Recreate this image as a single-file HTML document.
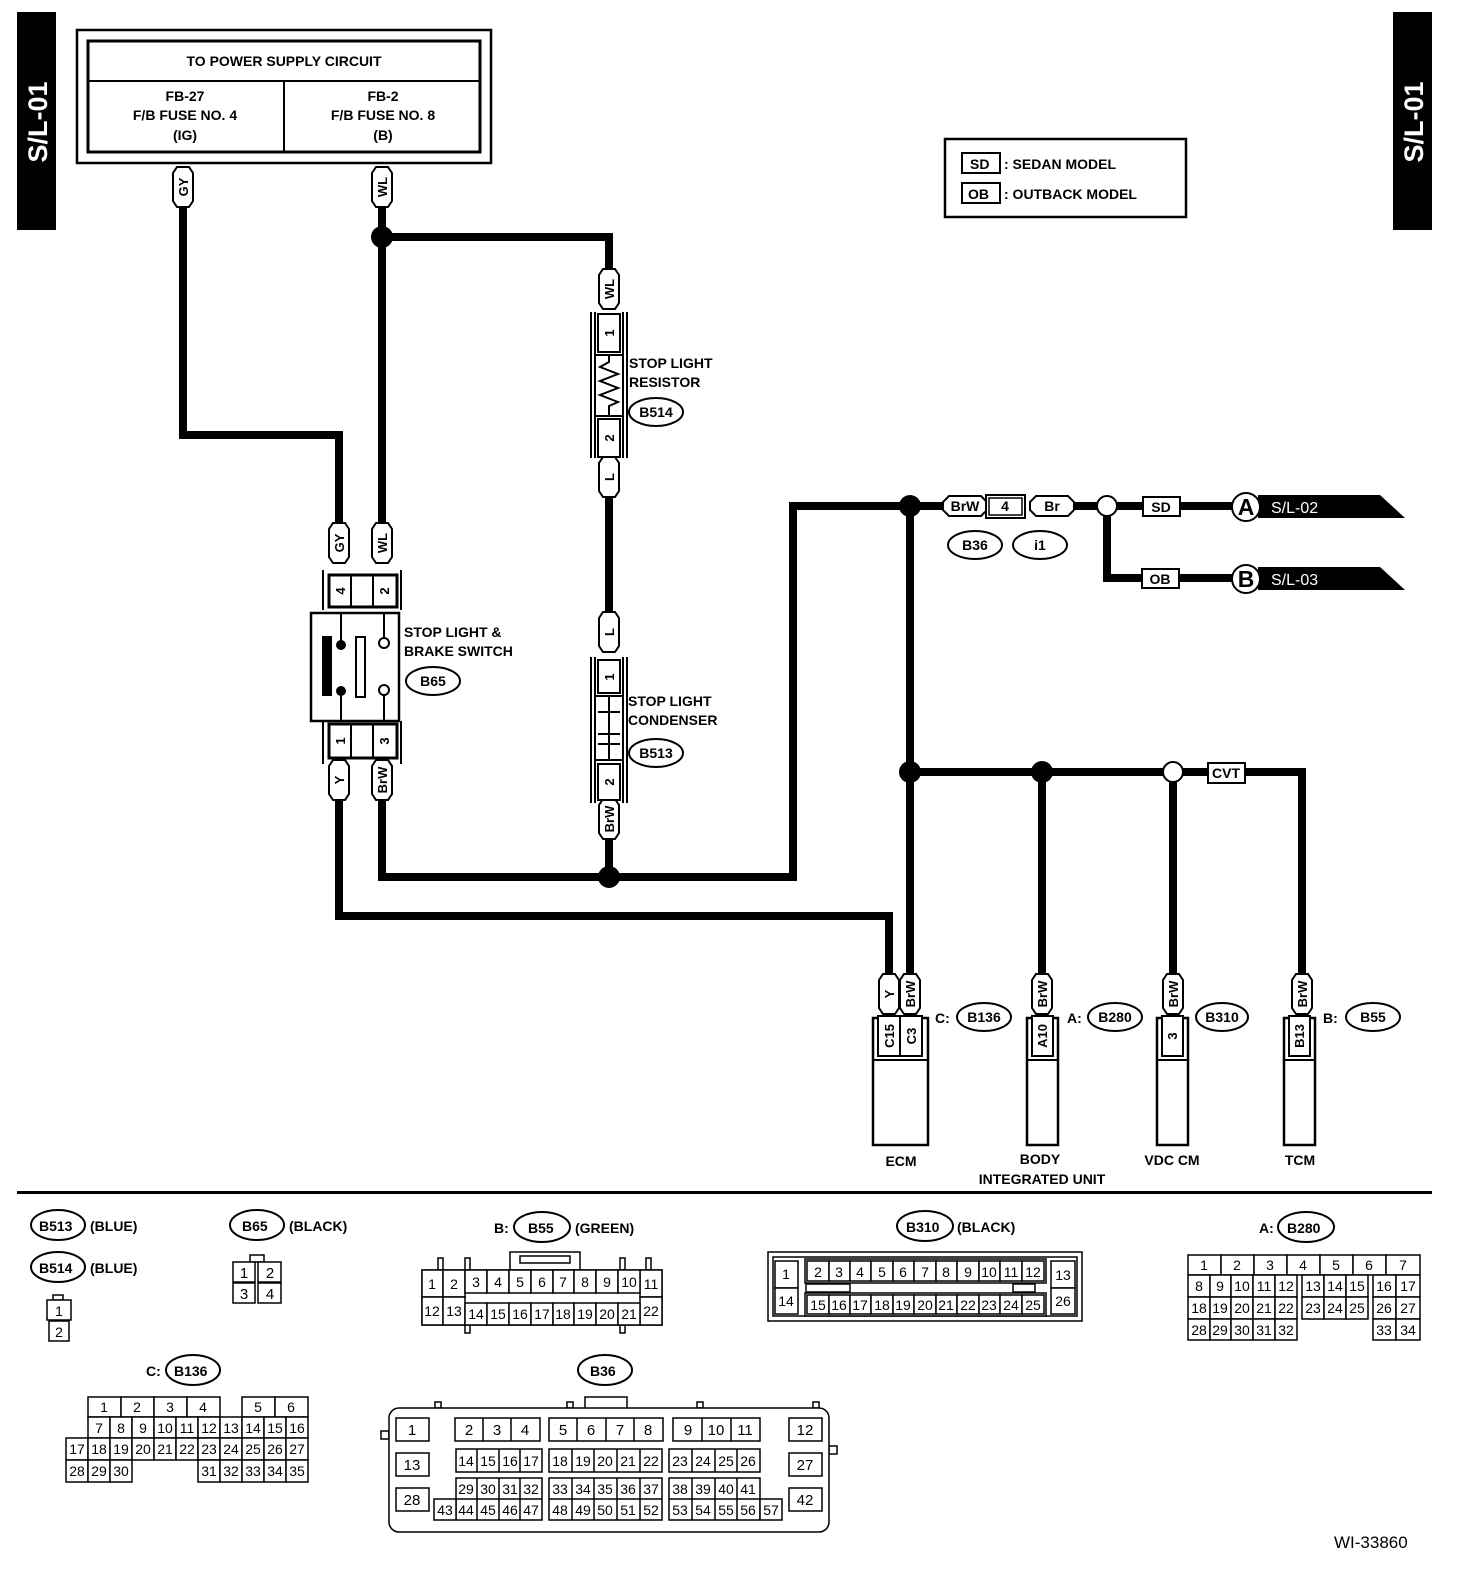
<!DOCTYPE html>
<html><head><meta charset="utf-8"><style>
html,body{margin:0;padding:0;background:#fff}
svg{display:block}
.b{font-family:"Liberation Sans",sans-serif;font-weight:bold;font-size:15px}
.t{font-family:"Liberation Sans",sans-serif;font-weight:bold;font-size:14px}
.n{font-family:"Liberation Sans Narrow","Liberation Sans",sans-serif;font-size:14px;text-anchor:middle}
.c rect{fill:#fff;stroke:#000;stroke-width:1.5}
.w{fill:none;stroke:#000;stroke-width:8}
.o{fill:#fff;stroke:#000;stroke-width:2}
</style></head><body>
<svg width="1472" height="1582" viewBox="0 0 1472 1582" xmlns="http://www.w3.org/2000/svg">
<defs>
<path id="p" d="M-10 -14 L-6 -20 L6 -20 L10 -14 V14 L6 20 L-6 20 L-10 14Z" fill="#fff" stroke="#000" stroke-width="2"/>
<path id="ph" d="M-22 -4 L-16 -10 L16 -10 L22 -4 V4 L16 10 L-16 10 L-22 4Z" fill="#fff" stroke="#000" stroke-width="2"/>
</defs>

<rect x="17" y="12" width="39" height="218" fill="#000"/>
<text fill="#fff" style="font-family:'Liberation Sans',sans-serif;font-weight:bold;font-size:27px" transform="translate(47,122) rotate(-90)" text-anchor="middle">S/L-01</text>
<rect x="1393" y="12" width="39" height="218" fill="#000"/>
<text fill="#fff" style="font-family:'Liberation Sans',sans-serif;font-weight:bold;font-size:27px" transform="translate(1423,122) rotate(-90)" text-anchor="middle">S/L-01</text>

<rect x="77" y="30" width="414" height="133" fill="none" stroke="#000" stroke-width="2.5"/>
<rect x="88" y="41" width="392" height="111" fill="none" stroke="#000" stroke-width="3"/>
<line x1="88" y1="81" x2="480" y2="81" stroke="#000" stroke-width="2"/>
<line x1="284" y1="81" x2="284" y2="152" stroke="#000" stroke-width="2"/>
<g class="t" text-anchor="middle">
<text x="284" y="66">TO POWER SUPPLY CIRCUIT</text>
<text x="185" y="101">FB-27</text><text x="185" y="120">F/B FUSE NO. 4</text><text x="185" y="140">(IG)</text>
<text x="383" y="101">FB-2</text><text x="383" y="120">F/B FUSE NO. 8</text><text x="383" y="140">(B)</text>
</g>

<rect x="945" y="139" width="241" height="78" fill="none" stroke="#000" stroke-width="2.5"/>
<rect x="962" y="153" width="38" height="20" fill="#fff" stroke="#000" stroke-width="2"/>
<rect x="962" y="183" width="38" height="20" fill="#fff" stroke="#000" stroke-width="2"/>
<g class="t"><text x="970" y="169">SD</text><text x="968" y="199">OB</text>
<text x="1004" y="169">: SEDAN MODEL</text><text x="1004" y="199">: OUTBACK MODEL</text></g>

<g class="w">
<polyline points="183,206 183,435 339,435 339,522"/>
<line x1="382" y1="206" x2="382" y2="522"/>
<polyline points="382,237 609,237 609,268"/>
<line x1="609" y1="497" x2="609" y2="612"/>
<line x1="609" y1="840" x2="609" y2="877"/>
<polyline points="382,800 382,877 793,877 793,506 944,506"/>
<polyline points="339,800 339,916 889,916 889,975"/>
<line x1="910" y1="506" x2="910" y2="975"/>
<polyline points="910,772 1302,772 1302,975"/>
<line x1="1042" y1="772" x2="1042" y2="975"/>
<line x1="1173" y1="772" x2="1173" y2="975"/>
<polyline points="1075,506 1246,506"/>
<polyline points="1107,506 1107,578 1246,578"/>
</g>
<circle cx="382" cy="237" r="11"/>
<circle cx="609" cy="877" r="11"/>
<circle cx="910" cy="506" r="11"/>
<circle cx="910" cy="772" r="11"/>
<circle cx="1042" cy="772" r="11"/>
<circle cx="1173" cy="772" r="10" class="o"/>
<circle cx="1107" cy="506" r="10" class="o"/>

<use href="#p" x="183" y="187"/><use href="#p" x="382" y="187"/>
<use href="#p" x="609" y="289"/><use href="#p" x="609" y="477"/>
<use href="#p" x="339" y="543"/><use href="#p" x="382" y="543"/>
<use href="#p" x="609" y="632"/><use href="#p" x="609" y="819"/>
<use href="#p" x="339" y="780"/><use href="#p" x="382" y="780"/>
<use href="#p" x="889" y="994"/><use href="#p" x="910" y="994"/>
<use href="#p" x="1042" y="994"/><use href="#p" x="1173" y="994"/><use href="#p" x="1302" y="994"/>
<g class="t" style="font-size:13px" text-anchor="middle">
<text transform="translate(188,187) rotate(-90)">GY</text>
<text transform="translate(387,187) rotate(-90)">WL</text>
<text transform="translate(614,289) rotate(-90)">WL</text>
<text transform="translate(614,477) rotate(-90)">L</text>
<text transform="translate(344,543) rotate(-90)">GY</text>
<text transform="translate(387,543) rotate(-90)">WL</text>
<text transform="translate(614,632) rotate(-90)">L</text>
<text transform="translate(614,819) rotate(-90)">BrW</text>
<text transform="translate(344,780) rotate(-90)">Y</text>
<text transform="translate(387,780) rotate(-90)">BrW</text>
<text transform="translate(894,994) rotate(-90)">Y</text>
<text transform="translate(915,994) rotate(-90)">BrW</text>
<text transform="translate(1047,994) rotate(-90)">BrW</text>
<text transform="translate(1178,994) rotate(-90)">BrW</text>
<text transform="translate(1307,994) rotate(-90)">BrW</text>
</g>

<g fill="none" stroke="#000" stroke-width="2">
<line x1="591" y1="312" x2="591" y2="458"/><line x1="627" y1="312" x2="627" y2="458"/>
<line x1="595" y1="312" x2="595" y2="458"/><line x1="623" y1="312" x2="623" y2="458"/>
<rect x="598" y="314" width="22" height="38" fill="#fff"/>
<rect x="598" y="419" width="22" height="38" fill="#fff"/>
<line x1="595" y1="355" x2="623" y2="355"/><line x1="595" y1="416" x2="623" y2="416"/>
<polyline points="609,355 609,362 600,367 618,374 600,381 618,388 600,395 618,402 609,406 609,416"/>
</g>
<g class="t" style="font-size:13px" text-anchor="middle">
<text transform="translate(614,333) rotate(-90)">1</text>
<text transform="translate(614,438) rotate(-90)">2</text></g>
<g class="t"><text x="629" y="368">STOP LIGHT</text><text x="629" y="387">RESISTOR</text></g>
<ellipse cx="656" cy="412" rx="27" ry="14" class="o"/>
<text class="t" x="656" y="417" text-anchor="middle">B514</text>

<g fill="none" stroke="#000" stroke-width="2">
<line x1="591" y1="657" x2="591" y2="803"/><line x1="627" y1="657" x2="627" y2="803"/>
<line x1="595" y1="657" x2="595" y2="803"/><line x1="623" y1="657" x2="623" y2="803"/>
<rect x="598" y="660" width="22" height="33" fill="#fff"/>
<rect x="598" y="764" width="22" height="36" fill="#fff"/>
<line x1="595" y1="696" x2="623" y2="696"/><line x1="595" y1="760" x2="623" y2="760"/>
<line x1="609" y1="696" x2="609" y2="760"/>
<line x1="598" y1="712" x2="620" y2="712"/>
<line x1="598" y1="734" x2="620" y2="734"/>
<line x1="598" y1="744" x2="620" y2="744"/>
</g>
<g class="t" style="font-size:13px" text-anchor="middle">
<text transform="translate(614,677) rotate(-90)">1</text>
<text transform="translate(614,782) rotate(-90)">2</text></g>
<g class="t"><text x="628" y="706">STOP LIGHT</text><text x="628" y="725">CONDENSER</text></g>
<ellipse cx="656" cy="753" rx="27" ry="14" class="o"/>
<text class="t" x="656" y="758" text-anchor="middle">B513</text>

<g fill="none" stroke="#000" stroke-width="2">
<polyline points="323,570 323,610"/><polyline points="401,570 401,610"/>
<rect x="329" y="575" width="68" height="32" fill="#fff" stroke-width="3"/>
<line x1="351" y1="575" x2="351" y2="607"/><line x1="373" y1="575" x2="373" y2="607"/>
<rect x="311" y="613" width="88" height="108" fill="#fff" stroke-width="2.5"/>
<line x1="323" y1="721" x2="323" y2="764"/><line x1="401" y1="721" x2="401" y2="764"/>
<rect x="329" y="724" width="68" height="34" fill="#fff" stroke-width="3"/>
<line x1="351" y1="724" x2="351" y2="758"/><line x1="373" y1="724" x2="373" y2="758"/>
<line x1="341" y1="613" x2="341" y2="645"/><line x1="341" y1="691" x2="341" y2="721"/>
<rect x="356" y="637" width="9" height="60"/>
<line x1="384" y1="613" x2="384" y2="638"/><line x1="384" y1="695" x2="384" y2="721"/>
<circle cx="384" cy="643" r="5"/><circle cx="384" cy="690" r="5"/>
</g>
<rect x="322" y="636" width="10" height="60"/>
<circle cx="341" cy="645" r="5"/><circle cx="341" cy="691" r="5"/>
<g class="t" style="font-size:13px" text-anchor="middle">
<text transform="translate(345,591) rotate(-90)">4</text>
<text transform="translate(389,591) rotate(-90)">2</text>
<text transform="translate(345,741) rotate(-90)">1</text>
<text transform="translate(389,741) rotate(-90)">3</text></g>
<g class="t"><text x="404" y="637">STOP LIGHT &amp;</text><text x="404" y="656">BRAKE SWITCH</text></g>
<ellipse cx="433" cy="681" rx="27" ry="14" class="o"/>
<text class="t" x="433" y="686" text-anchor="middle">B65</text>

<use href="#ph" x="965" y="506"/>
<rect x="986" y="495" width="39" height="23" fill="#fff" stroke="#000" stroke-width="2"/>
<rect x="989" y="498" width="33" height="17" fill="none" stroke="#000" stroke-width="1.5"/>
<use href="#ph" x="1052" y="506"/>
<g class="t" text-anchor="middle"><text x="965" y="511">BrW</text><text x="1005" y="511">4</text><text x="1052" y="511">Br</text></g>
<ellipse cx="975" cy="545" rx="27" ry="14" class="o"/>
<ellipse cx="1040" cy="545" rx="27" ry="14" class="o"/>
<g class="t" text-anchor="middle"><text x="975" y="550">B36</text><text x="1040" y="550">i1</text></g>
<rect x="1143" y="497" width="37" height="19" fill="#fff" stroke="#000" stroke-width="2"/>
<rect x="1142" y="569" width="37" height="19" fill="#fff" stroke="#000" stroke-width="2"/>
<g class="t" text-anchor="middle"><text x="1161" y="512">SD</text><text x="1160" y="584">OB</text></g>
<polygon points="1258,495 1380,495 1405,518 1258,518"/>
<polygon points="1258,567 1380,567 1405,590 1258,590"/>
<circle cx="1246" cy="507" r="14" class="o"/>
<circle cx="1246" cy="579" r="14" class="o"/>
<g style="font-family:'Liberation Sans',sans-serif;font-weight:bold;font-size:23px" text-anchor="middle"><text x="1246" y="515">A</text><text x="1246" y="587">B</text></g>
<g style="font-family:'Liberation Sans',sans-serif;font-size:16px" fill="#fff"><text x="1271" y="513">S/L-02</text><text x="1271" y="585">S/L-03</text></g>

<rect x="1208" y="763" width="37" height="20" fill="#fff" stroke="#000" stroke-width="2"/>
<text class="t" x="1226" y="778" text-anchor="middle">CVT</text>

<g fill="#fff" stroke="#000" stroke-width="2.5">
<rect x="873" y="1018" width="55" height="127"/>
<rect x="1027" y="1018" width="31" height="127"/>
<rect x="1157" y="1018" width="31" height="127"/>
<rect x="1284" y="1018" width="31" height="127"/>
</g>
<g fill="#fff" stroke="#000" stroke-width="2">
<rect x="878" y="1016" width="22" height="40"/><rect x="900" y="1016" width="22" height="40"/>
<rect x="1032" y="1016" width="21" height="40"/><rect x="1162" y="1016" width="21" height="40"/><rect x="1289" y="1016" width="21" height="40"/>
</g>
<g stroke="#000" stroke-width="2"><line x1="873" y1="1060" x2="928" y2="1060"/><line x1="1027" y1="1060" x2="1058" y2="1060"/><line x1="1157" y1="1060" x2="1188" y2="1060"/><line x1="1284" y1="1060" x2="1315" y2="1060"/></g>
<g class="t" style="font-size:13px" text-anchor="middle">
<text transform="translate(894,1036) rotate(-90)">C15</text>
<text transform="translate(916,1036) rotate(-90)">C3</text>
<text transform="translate(1047,1036) rotate(-90)">A10</text>
<text transform="translate(1177,1036) rotate(-90)">3</text>
<text transform="translate(1304,1036) rotate(-90)">B13</text>
</g>
<g class="t"><text x="935" y="1023">C:</text><text x="1067" y="1023">A:</text><text x="1323" y="1023">B:</text></g>
<g class="o"><ellipse cx="984" cy="1017" rx="27" ry="14"/><ellipse cx="1115" cy="1017" rx="27" ry="14"/><ellipse cx="1222" cy="1017" rx="26" ry="14"/><ellipse cx="1373" cy="1017" rx="27" ry="14"/></g>
<g class="t" text-anchor="middle"><text x="984" y="1022">B136</text><text x="1115" y="1022">B280</text><text x="1222" y="1022">B310</text><text x="1373" y="1022">B55</text>
<text x="901" y="1166">ECM</text><text x="1040" y="1164">BODY</text><text x="1042" y="1184">INTEGRATED UNIT</text><text x="1172" y="1165">VDC CM</text><text x="1300" y="1165">TCM</text></g>

<rect x="17" y="1191" width="1415" height="3"/>

<g class="o"><ellipse cx="58" cy="1225" rx="27" ry="15"/><ellipse cx="58" cy="1267" rx="27" ry="15"/><ellipse cx="257" cy="1225" rx="27" ry="15"/><ellipse cx="542" cy="1227" rx="28" ry="15"/><ellipse cx="925" cy="1226" rx="28" ry="15"/><ellipse cx="1306" cy="1227" rx="28" ry="15"/><ellipse cx="193" cy="1370" rx="27" ry="15"/><ellipse cx="605" cy="1370" rx="27" ry="15"/></g>
<g class="t"><text x="39" y="1231">B513</text><text x="90" y="1231">(BLUE)</text>
<text x="39" y="1273">B514</text><text x="90" y="1273">(BLUE)</text>
<text x="242" y="1231">B65</text><text x="289" y="1231">(BLACK)</text>
<text x="494" y="1233">B:</text><text x="528" y="1233">B55</text><text x="575" y="1233">(GREEN)</text>
<text x="906" y="1232">B310</text><text x="957" y="1232">(BLACK)</text>
<text x="1259" y="1233">A:</text><text x="1287" y="1233">B280</text>
<text x="146" y="1376">C:</text><text x="174" y="1376">B136</text>
<text x="590" y="1376">B36</text></g>

<g class="c"><rect x="53" y="1295" width="10" height="5"/><rect x="47" y="1300" width="24" height="20"/><rect x="49" y="1321" width="20" height="20"/></g>
<g class="n"><text x="59" y="1316">1</text><text x="59" y="1337">2</text></g>

<g class="c"><rect x="250" y="1255" width="14" height="7"/><rect x="233" y="1262" width="22" height="20"/><rect x="258" y="1262" width="23" height="20"/><rect x="233" y="1283" width="22" height="20"/><rect x="258" y="1283" width="23" height="20"/></g>
<g class="n" style="font-size:15px"><text x="244" y="1278">1</text><text x="270" y="1278">2</text><text x="244" y="1299">3</text><text x="270" y="1299">4</text></g>

<g class="c">
<rect x="510" y="1252" width="70" height="18"/><rect x="438" y="1258" width="5" height="12"/><rect x="465" y="1258" width="5" height="12"/><rect x="620" y="1258" width="5" height="12"/><rect x="646" y="1258" width="5" height="12"/>
<rect x="465" y="1325" width="5" height="8"/><rect x="620" y="1325" width="5" height="8"/>
<rect x="422" y="1270" width="240" height="55"/>
<rect x="422" y="1270" width="21" height="27"/><rect x="443" y="1270" width="22" height="27"/><rect x="422" y="1297" width="21" height="28"/><rect x="443" y="1297" width="22" height="28"/>
<rect x="640" y="1270" width="22" height="27"/><rect x="640" y="1297" width="22" height="28"/>
<rect x="465" y="1270" width="22" height="23"/><rect x="487" y="1270" width="22" height="23"/><rect x="509" y="1270" width="22" height="23"/><rect x="531" y="1270" width="22" height="23"/><rect x="553" y="1270" width="21" height="23"/><rect x="574" y="1270" width="22" height="23"/><rect x="596" y="1270" width="22" height="23"/><rect x="618" y="1270" width="22" height="23"/>
<rect x="465" y="1303" width="22" height="22"/><rect x="487" y="1303" width="22" height="22"/><rect x="509" y="1303" width="22" height="22"/><rect x="531" y="1303" width="22" height="22"/><rect x="553" y="1303" width="21" height="22"/><rect x="574" y="1303" width="22" height="22"/><rect x="596" y="1303" width="22" height="22"/><rect x="618" y="1303" width="22" height="22"/>
<rect x="520" y="1256" width="50" height="7"/>
</g>
<g class="n"><text x="432" y="1289">1</text><text x="454" y="1289">2</text><text x="476" y="1287">3</text><text x="498" y="1287">4</text><text x="520" y="1287">5</text><text x="542" y="1287">6</text><text x="563" y="1287">7</text><text x="585" y="1287">8</text><text x="607" y="1287">9</text><text x="629" y="1287">10</text><text x="651" y="1289">11</text>
<text x="432" y="1316">12</text><text x="454" y="1316">13</text><text x="476" y="1319">14</text><text x="498" y="1319">15</text><text x="520" y="1319">16</text><text x="542" y="1319">17</text><text x="563" y="1319">18</text><text x="585" y="1319">19</text><text x="607" y="1319">20</text><text x="629" y="1319">21</text><text x="651" y="1316">22</text></g>

<g class="c">
<rect x="768" y="1252" width="314" height="69"/><rect x="773" y="1257" width="304" height="59"/>
<rect x="775" y="1261" width="23" height="27"/><rect x="775" y="1288" width="23" height="26"/>
<rect x="1051" y="1261" width="24" height="27"/><rect x="1051" y="1288" width="24" height="26"/>
<rect x="805" y="1259" width="241" height="24"/>
<rect x="807" y="1261" width="22" height="20"/><rect x="829" y="1261" width="21" height="20"/><rect x="850" y="1261" width="21" height="20"/><rect x="871" y="1261" width="22" height="20"/><rect x="893" y="1261" width="21" height="20"/><rect x="914" y="1261" width="22" height="20"/><rect x="936" y="1261" width="21" height="20"/><rect x="957" y="1261" width="22" height="20"/><rect x="979" y="1261" width="21" height="20"/><rect x="1000" y="1261" width="22" height="20"/><rect x="1022" y="1261" width="22" height="20"/>
<rect x="805" y="1293" width="241" height="23"/>
<rect x="807" y="1295" width="22" height="19"/><rect x="829" y="1295" width="21" height="19"/><rect x="850" y="1295" width="21" height="19"/><rect x="871" y="1295" width="22" height="19"/><rect x="893" y="1295" width="21" height="19"/><rect x="914" y="1295" width="22" height="19"/><rect x="936" y="1295" width="21" height="19"/><rect x="957" y="1295" width="22" height="19"/><rect x="979" y="1295" width="21" height="19"/><rect x="1000" y="1295" width="22" height="19"/><rect x="1022" y="1295" width="22" height="19"/>
<rect x="806" y="1284" width="44" height="8"/><rect x="1013" y="1284" width="22" height="8"/>
</g>
<g class="n"><text x="786" y="1279">1</text><text x="786" y="1306">14</text><text x="1063" y="1280">13</text><text x="1063" y="1306">26</text>
<text x="818" y="1277">2</text><text x="839" y="1277">3</text><text x="860" y="1277">4</text><text x="882" y="1277">5</text><text x="903" y="1277">6</text><text x="925" y="1277">7</text><text x="946" y="1277">8</text><text x="968" y="1277">9</text><text x="989" y="1277">10</text><text x="1011" y="1277">11</text><text x="1033" y="1277">12</text>
<text x="818" y="1310">15</text><text x="839" y="1310">16</text><text x="860" y="1310">17</text><text x="882" y="1310">18</text><text x="903" y="1310">19</text><text x="925" y="1310">20</text><text x="946" y="1310">21</text><text x="968" y="1310">22</text><text x="989" y="1310">23</text><text x="1011" y="1310">24</text><text x="1033" y="1310">25</text></g>

<g class="c">
<rect x="1188" y="1255" width="33" height="20"/><rect x="1221" y="1255" width="33" height="20"/><rect x="1254" y="1255" width="33" height="20"/><rect x="1287" y="1255" width="33" height="20"/><rect x="1320" y="1255" width="33" height="20"/><rect x="1353" y="1255" width="33" height="20"/><rect x="1386" y="1255" width="34" height="20"/>
<rect x="1188" y="1275" width="22" height="22"/><rect x="1210" y="1275" width="21" height="22"/><rect x="1231" y="1275" width="22" height="22"/><rect x="1253" y="1275" width="22" height="22"/><rect x="1275" y="1275" width="22" height="22"/><rect x="1302" y="1275" width="22" height="22"/><rect x="1324" y="1275" width="22" height="22"/><rect x="1346" y="1275" width="22" height="22"/><rect x="1373" y="1275" width="23" height="22"/><rect x="1396" y="1275" width="24" height="22"/>
<rect x="1188" y="1297" width="22" height="22"/><rect x="1210" y="1297" width="21" height="22"/><rect x="1231" y="1297" width="22" height="22"/><rect x="1253" y="1297" width="22" height="22"/><rect x="1275" y="1297" width="22" height="22"/><rect x="1302" y="1297" width="22" height="22"/><rect x="1324" y="1297" width="22" height="22"/><rect x="1346" y="1297" width="22" height="22"/><rect x="1373" y="1297" width="23" height="22"/><rect x="1396" y="1297" width="24" height="22"/>
<rect x="1188" y="1319" width="22" height="21"/><rect x="1210" y="1319" width="21" height="21"/><rect x="1231" y="1319" width="22" height="21"/><rect x="1253" y="1319" width="22" height="21"/><rect x="1275" y="1319" width="22" height="21"/><rect x="1373" y="1319" width="23" height="21"/><rect x="1396" y="1319" width="24" height="21"/>
</g>
<g class="n"><text x="1204" y="1270">1</text><text x="1237" y="1270">2</text><text x="1270" y="1270">3</text><text x="1303" y="1270">4</text><text x="1336" y="1270">5</text><text x="1369" y="1270">6</text><text x="1403" y="1270">7</text>
<text x="1199" y="1291">8</text><text x="1220" y="1291">9</text><text x="1242" y="1291">10</text><text x="1264" y="1291">11</text><text x="1286" y="1291">12</text><text x="1313" y="1291">13</text><text x="1335" y="1291">14</text><text x="1357" y="1291">15</text><text x="1384" y="1291">16</text><text x="1408" y="1291">17</text>
<text x="1199" y="1313">18</text><text x="1220" y="1313">19</text><text x="1242" y="1313">20</text><text x="1264" y="1313">21</text><text x="1286" y="1313">22</text><text x="1313" y="1313">23</text><text x="1335" y="1313">24</text><text x="1357" y="1313">25</text><text x="1384" y="1313">26</text><text x="1408" y="1313">27</text>
<text x="1199" y="1335">28</text><text x="1220" y="1335">29</text><text x="1242" y="1335">30</text><text x="1264" y="1335">31</text><text x="1286" y="1335">32</text><text x="1384" y="1335">33</text><text x="1408" y="1335">34</text></g>

<g class="c">
<rect x="88" y="1397" width="33" height="20"/><rect x="121" y="1397" width="33" height="20"/><rect x="154" y="1397" width="33" height="20"/><rect x="187" y="1397" width="33" height="20"/><rect x="242" y="1397" width="33" height="20"/><rect x="275" y="1397" width="33" height="20"/>
<rect x="88" y="1417" width="22" height="21"/><rect x="110" y="1417" width="22" height="21"/><rect x="132" y="1417" width="22" height="21"/><rect x="154" y="1417" width="22" height="21"/><rect x="176" y="1417" width="22" height="21"/><rect x="198" y="1417" width="22" height="21"/><rect x="220" y="1417" width="22" height="21"/><rect x="242" y="1417" width="22" height="21"/><rect x="264" y="1417" width="22" height="21"/><rect x="286" y="1417" width="22" height="21"/>
<rect x="66" y="1438" width="22" height="22"/><rect x="88" y="1438" width="22" height="22"/><rect x="110" y="1438" width="22" height="22"/><rect x="132" y="1438" width="22" height="22"/><rect x="154" y="1438" width="22" height="22"/><rect x="176" y="1438" width="22" height="22"/><rect x="198" y="1438" width="22" height="22"/><rect x="220" y="1438" width="22" height="22"/><rect x="242" y="1438" width="22" height="22"/><rect x="264" y="1438" width="22" height="22"/><rect x="286" y="1438" width="22" height="22"/>
<rect x="66" y="1460" width="22" height="22"/><rect x="88" y="1460" width="22" height="22"/><rect x="110" y="1460" width="22" height="22"/><rect x="198" y="1460" width="22" height="22"/><rect x="220" y="1460" width="22" height="22"/><rect x="242" y="1460" width="22" height="22"/><rect x="264" y="1460" width="22" height="22"/><rect x="286" y="1460" width="22" height="22"/>
</g>
<g class="n"><text x="104" y="1412">1</text><text x="137" y="1412">2</text><text x="170" y="1412">3</text><text x="203" y="1412">4</text><text x="258" y="1412">5</text><text x="291" y="1412">6</text>
<text x="99" y="1433">7</text><text x="121" y="1433">8</text><text x="143" y="1433">9</text><text x="165" y="1433">10</text><text x="187" y="1433">11</text><text x="209" y="1433">12</text><text x="231" y="1433">13</text><text x="253" y="1433">14</text><text x="275" y="1433">15</text><text x="297" y="1433">16</text>
<text x="77" y="1454">17</text><text x="99" y="1454">18</text><text x="121" y="1454">19</text><text x="143" y="1454">20</text><text x="165" y="1454">21</text><text x="187" y="1454">22</text><text x="209" y="1454">23</text><text x="231" y="1454">24</text><text x="253" y="1454">25</text><text x="275" y="1454">26</text><text x="297" y="1454">27</text>
<text x="77" y="1476">28</text><text x="99" y="1476">29</text><text x="121" y="1476">30</text><text x="209" y="1476">31</text><text x="231" y="1476">32</text><text x="253" y="1476">33</text><text x="275" y="1476">34</text><text x="297" y="1476">35</text></g>

<g class="c">
<rect x="585" y="1397" width="42" height="12"/><rect x="435" y="1402" width="6" height="6"/><rect x="567" y="1402" width="6" height="6"/><rect x="697" y="1402" width="6" height="6"/><rect x="813" y="1402" width="6" height="6"/>
<rect x="381" y="1431" width="8" height="8"/><rect x="829" y="1446" width="8" height="8"/>
<rect x="389" y="1408" width="440" height="124" rx="10"/>
<rect x="396" y="1418" width="33" height="23" stroke-width="2.5"/><rect x="396" y="1453" width="33" height="23"/><rect x="396" y="1488" width="33" height="23" stroke-width="2.5"/>
<rect x="789" y="1418" width="33" height="23"/><rect x="789" y="1453" width="33" height="23"/><rect x="789" y="1488" width="33" height="23" stroke-width="2.5"/>
<rect x="455" y="1418" width="85" height="23" stroke-width="2.5"/><rect x="549" y="1418" width="114" height="23" stroke-width="2.5"/><rect x="673" y="1418" width="87" height="23" stroke-width="2.5"/>
<rect x="456" y="1449" width="86" height="23" stroke-width="2.5"/><rect x="549" y="1449" width="113" height="23" stroke-width="2.5"/><rect x="669" y="1449" width="91" height="23" stroke-width="2.5"/>
<rect x="456" y="1478" width="86" height="42"/><rect x="434" y="1499" width="22" height="21"/><rect x="549" y="1478" width="113" height="42"/><rect x="669" y="1478" width="91" height="42"/><rect x="760" y="1499" width="22" height="21"/>
</g>
<g stroke="#000" stroke-width="1.5">
<line x1="483" y1="1418" x2="483" y2="1441"/><line x1="511" y1="1418" x2="511" y2="1441"/>
<line x1="577" y1="1418" x2="577" y2="1441"/><line x1="606" y1="1418" x2="606" y2="1441"/><line x1="634" y1="1418" x2="634" y2="1441"/>
<line x1="702" y1="1418" x2="702" y2="1441"/><line x1="731" y1="1418" x2="731" y2="1441"/>
<line x1="477" y1="1449" x2="477" y2="1472"/><line x1="499" y1="1449" x2="499" y2="1472"/><line x1="520" y1="1449" x2="520" y2="1472"/>
<line x1="572" y1="1449" x2="572" y2="1472"/><line x1="594" y1="1449" x2="594" y2="1472"/><line x1="617" y1="1449" x2="617" y2="1472"/><line x1="640" y1="1449" x2="640" y2="1472"/>
<line x1="692" y1="1449" x2="692" y2="1472"/><line x1="715" y1="1449" x2="715" y2="1472"/><line x1="737" y1="1449" x2="737" y2="1472"/>
<line x1="456" y1="1499" x2="542" y2="1499"/><line x1="549" y1="1499" x2="662" y2="1499"/><line x1="669" y1="1499" x2="760" y2="1499"/>
<line x1="477" y1="1478" x2="477" y2="1520"/><line x1="499" y1="1478" x2="499" y2="1520"/><line x1="520" y1="1478" x2="520" y2="1520"/>
<line x1="572" y1="1478" x2="572" y2="1520"/><line x1="594" y1="1478" x2="594" y2="1520"/><line x1="617" y1="1478" x2="617" y2="1520"/><line x1="640" y1="1478" x2="640" y2="1520"/>
<line x1="692" y1="1478" x2="692" y2="1520"/><line x1="715" y1="1478" x2="715" y2="1520"/><line x1="737" y1="1478" x2="737" y2="1520"/>
</g>
<g class="n" style="font-size:15px"><text x="412" y="1435">1</text><text x="412" y="1470">13</text><text x="412" y="1505">28</text><text x="805" y="1435">12</text><text x="805" y="1470">27</text><text x="805" y="1505">42</text>
<text x="469" y="1435">2</text><text x="497" y="1435">3</text><text x="525" y="1435">4</text><text x="563" y="1435">5</text><text x="591" y="1435">6</text><text x="620" y="1435">7</text><text x="648" y="1435">8</text><text x="688" y="1435">9</text><text x="716" y="1435">10</text><text x="745" y="1435">11</text></g>
<g class="n"><text x="466" y="1466">14</text><text x="488" y="1466">15</text><text x="510" y="1466">16</text><text x="531" y="1466">17</text><text x="560" y="1466">18</text><text x="583" y="1466">19</text><text x="605" y="1466">20</text><text x="628" y="1466">21</text><text x="651" y="1466">22</text><text x="680" y="1466">23</text><text x="703" y="1466">24</text><text x="726" y="1466">25</text><text x="748" y="1466">26</text>
<text x="466" y="1494">29</text><text x="488" y="1494">30</text><text x="510" y="1494">31</text><text x="531" y="1494">32</text><text x="560" y="1494">33</text><text x="583" y="1494">34</text><text x="605" y="1494">35</text><text x="628" y="1494">36</text><text x="651" y="1494">37</text><text x="680" y="1494">38</text><text x="703" y="1494">39</text><text x="726" y="1494">40</text><text x="748" y="1494">41</text>
<text x="445" y="1515">43</text><text x="466" y="1515">44</text><text x="488" y="1515">45</text><text x="510" y="1515">46</text><text x="531" y="1515">47</text><text x="560" y="1515">48</text><text x="583" y="1515">49</text><text x="605" y="1515">50</text><text x="628" y="1515">51</text><text x="651" y="1515">52</text><text x="680" y="1515">53</text><text x="703" y="1515">54</text><text x="726" y="1515">55</text><text x="748" y="1515">56</text><text x="771" y="1515">57</text></g>

<text x="1334" y="1548" style="font-family:'Liberation Sans',sans-serif;font-size:17px">WI-33860</text>
</svg>
</body></html>
